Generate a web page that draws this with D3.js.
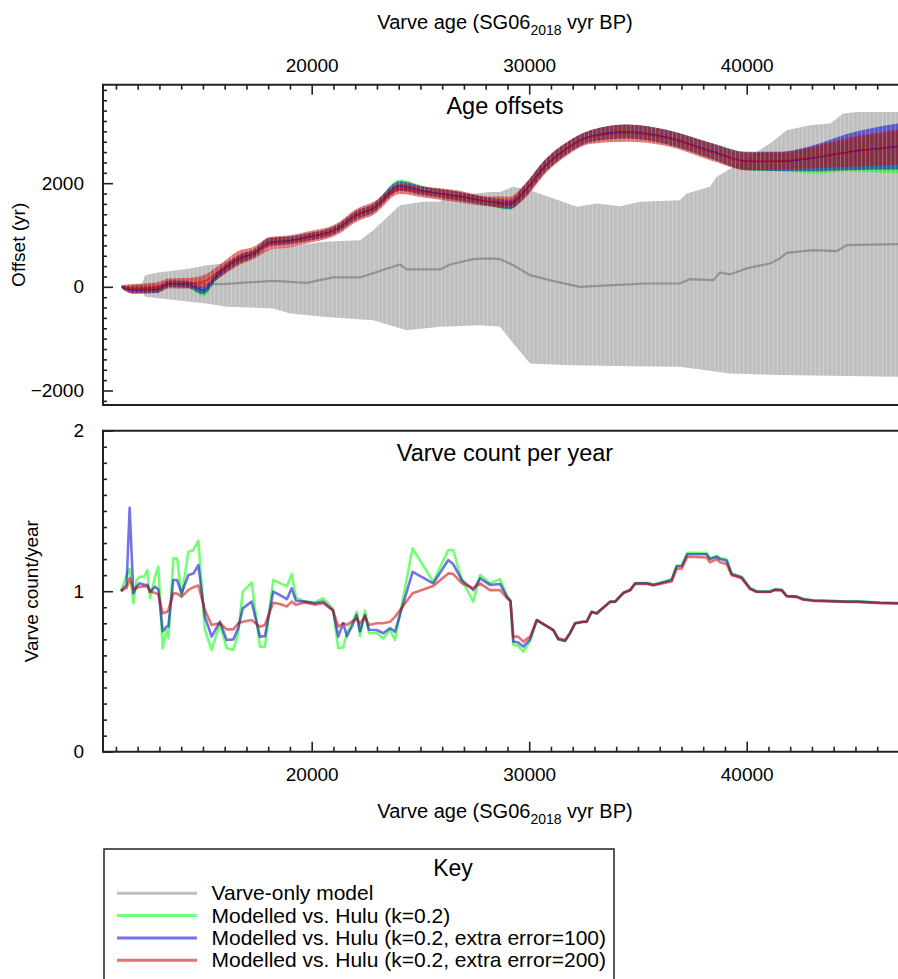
<!DOCTYPE html>
<html>
<head>
<meta charset="utf-8">
<script src="https://cdn.jsdelivr.net/npm/d3@7"></script>
<style>
  body { margin: 0; background: #fff; }
  svg { display: block; font-family: "Liberation Sans", Arial, sans-serif; }
</style>
</head>
<body>
<div id="chart"></div>
<script>
// ---- Age offsets: varve-only model (grey envelope + median) ----
const varveHiAges = [11280, 12200, 12340, 12870, 14400, 15170, 15780, 17470, 19000, 20530,
  22220, 22830, 24060, 25130, 25900, 26050, 28200, 28660, 29260, 30040,
  32190, 33100, 34180, 35100, 36930, 37240, 38310, 38620, 39390, 41070,
  41840, 42910, 43840, 44440, 45060, 47000];
const varveHi = [0, 60, 225, 270, 355, 418, 440, 675, 771, 868,
  900, 1093, 1576, 1640, 1640, 1736, 1832, 1832, 1929, 1865,
  1543, 1608, 1556, 1640, 1672, 1801, 1929, 2122, 2314, 2766,
  3022, 3119, 3151, 3344, 3375, 3375];
const varveLoAges = [11280, 12200, 12340, 14400, 15170, 16090, 18230, 19000, 20530, 22830,
  24370, 25900, 27740, 28660, 29270, 30040, 31570, 33870, 36930, 39230,
  41530, 44600, 47000];
const varveLo = [0, -60, -193, -289, -321, -386, -417, -514, -578, -643,
  -836, -771, -739, -771, -1093, -1478, -1510, -1529, -1543, -1671,
  -1703, -1722, -1736];
const varveMedAges = [11280, 14400, 15940, 18230, 19770, 20990, 22220, 24060, 24370, 25900,
  26360, 27430, 28200, 28660, 29270, 30040, 31270, 32340, 33870, 35400,
  36930, 37390, 38470, 38770, 39230, 40000, 41070, 41530, 41840, 43060,
  44140, 44600, 47000];
const varveMed = [0, 52, 52, 116, 77, 181, 181, 432, 336, 336,
  432, 534, 548, 534, 418, 226, 97, 0, 32, 64,
  64, 148, 129, 278, 239, 355, 451, 548, 656, 708,
  689, 804, 824];

// ---- Age offsets: modelled vs. Hulu (centre and half-width) ----
const offsetAges = [11260, 11800, 12870, 13480, 14250, 15020, 15630, 16700, 17310, 18080,
  19000, 19770, 21150, 22070, 22830, 24060, 25130, 26670, 28200, 29120,
  29730, 30800, 31720, 32800, 34480, 36320, 38460, 40000, 41530, 43060,
  44600, 47000];
const greenMid = [0, -70, -60, 55, 45, -110, 200, 540, 640, 880,
  900, 960, 1120, 1390, 1520, 1970, 1860, 1760, 1630, 1560,
  1820, 2360, 2675, 2905, 2996, 2890, 2610, 2420, 2400, 2440,
  2520, 2590];
const blueMid = [0, -65, -55, 60, 50, -70, 210, 545, 640, 860,
  895, 955, 1115, 1385, 1515, 1945, 1850, 1755, 1640, 1590,
  1820, 2360, 2670, 2905, 2996, 2890, 2610, 2427, 2420, 2480,
  2600, 2710];
const redMid = [0, -40, -15, 70, 70, 100, 260, 565, 650, 835,
  880, 950, 1110, 1383, 1511, 1890, 1830, 1750, 1645, 1630,
  1815, 2350, 2660, 2885, 2965, 2870, 2590, 2420, 2430, 2500,
  2590, 2700];
const greenErr = [20, 55, 60, 60, 60, 75, 75, 80, 70, 75,
  70, 70, 70, 80, 80, 100, 85, 80, 75, 80,
  110, 115, 110, 110, 130, 135, 150, 175, 177, 255,
  300, 400];
const blueErr = [25, 60, 65, 65, 65, 75, 75, 85, 75, 80,
  75, 75, 75, 85, 85, 95, 85, 85, 80, 90,
  115, 120, 115, 115, 136, 140, 155, 177, 185, 250,
  350, 445];
const redErr = [35, 95, 100, 95, 100, 125, 125, 140, 120, 125,
  115, 112, 112, 125, 125, 100, 105, 112, 97, 110,
  140, 140, 130, 130, 168, 155, 165, 170, 165, 210,
  280, 340];

// ---- Varve count per year ----
const countAges = [11230, 11490, 11630, 11800, 11950, 12100, 12290, 12440, 12570, 12800,
  12950, 13150, 13330, 13410, 13640, 13810, 14020, 14330, 14560, 14790,
  15090, 15400, 15780, 16090, 16400, 16620, 16830, 17240, 17620, 17850,
  18230, 18540, 18860, 19080, 19280, 19690, 20150, 20530, 20980, 21220,
  21450, 21620, 21850, 22070, 22220, 22450, 22630, 22990, 23290, 23600,
  23830, 24640, 25590, 26280, 26500, 26900, 27430, 27740, 28200, 28660,
  28980, 29140, 29270, 29490, 29730, 30040, 30350, 31110, 31340, 31650,
  31880, 32110, 32490, 32640, 32870, 33100, 33720, 33950, 34330, 34640,
  34870, 35400, 35710, 36010, 36320, 36550, 36780, 37010, 37270, 38160,
  38310, 38620, 38770, 39080, 39310, 39770, 40150, 40460, 41070, 41300,
  41610, 41840, 42300, 42600, 43060, 44600, 45060, 46130, 47000];
const greenCount = [1.00, 1.10, 1.14, 0.925, 1.07, 1.09, 1.09, 1.132, 0.956, 1.09,
  1.153, 0.644, 0.758, 0.706, 1.205, 1.205, 0.966, 1.246, 1.257, 1.315,
  0.758, 0.634, 0.80, 0.644, 0.634, 0.74, 0.997, 1.053, 0.654, 0.654,
  1.07, 1.05, 1.03, 1.107, 0.96, 0.935, 0.93, 0.956, 0.89, 0.644,
  0.65, 0.74, 0.80, 0.872, 0.72, 0.88, 0.74, 0.74, 0.706, 0.76,
  0.696, 1.267, 1.059, 1.257, 1.257, 1.07, 0.935, 1.101, 1.05, 1.075,
  0.97, 0.93, 0.665, 0.66, 0.623, 0.69, 0.82, 0.758, 0.70, 0.69,
  0.74, 0.80, 0.81, 0.81, 0.872, 0.862, 0.935, 0.935, 0.99, 1.007,
  1.05, 1.052, 1.042, 1.052, 1.065, 1.075, 1.16, 1.16, 1.24, 1.237,
  1.205, 1.22, 1.205, 1.20, 1.11, 1.09, 1.02, 1.0, 1.0, 1.012,
  1.009, 0.972, 0.968, 0.952, 0.944, 0.937, 0.938, 0.93, 0.927];
const blueCount = [1.00, 1.04, 1.52, 0.987, 1.03, 1.05, 1.04, 1.04, 0.997, 1.028,
  1.01, 0.75, 0.78, 0.78, 1.07, 1.07, 0.987, 1.101, 1.11, 1.163,
  0.841, 0.717, 0.81, 0.696, 0.70, 0.769, 0.893, 0.935, 0.717, 0.72,
  0.997, 0.975, 0.95, 1.018, 0.94, 0.935, 0.925, 0.935, 0.88, 0.717,
  0.80, 0.72, 0.78, 0.852, 0.75, 0.852, 0.76, 0.758, 0.738, 0.77,
  0.748, 1.121, 1.049, 1.194, 1.17, 1.07, 1.007, 1.08, 1.039, 1.045,
  0.966, 0.94, 0.686, 0.68, 0.655, 0.70, 0.82, 0.758, 0.70, 0.69,
  0.74, 0.80, 0.81, 0.81, 0.872, 0.862, 0.935, 0.935, 0.99, 1.007,
  1.049, 1.049, 1.04, 1.049, 1.06, 1.07, 1.155, 1.155, 1.23, 1.23,
  1.20, 1.215, 1.20, 1.19, 1.105, 1.085, 1.018, 0.997, 0.997, 1.01,
  1.007, 0.97, 0.966, 0.95, 0.942, 0.935, 0.935, 0.928, 0.925];
const redCount = [1.00, 1.02, 1.08, 1.01, 1.02, 1.028, 1.03, 1.03, 0.997, 0.99,
  0.98, 0.862, 0.87, 0.883, 0.987, 0.985, 0.966, 1.007, 1.025, 1.035,
  0.883, 0.789, 0.80, 0.762, 0.762, 0.80, 0.81, 0.82, 0.779, 0.79,
  0.928, 0.92, 0.905, 0.935, 0.915, 0.93, 0.915, 0.925, 0.88, 0.779,
  0.80, 0.79, 0.81, 0.83, 0.80, 0.84, 0.79, 0.80, 0.80, 0.81,
  0.84, 0.987, 1.032, 1.111, 1.108, 1.05, 1.018, 1.049, 1.007, 1.007,
  0.956, 0.94, 0.717, 0.717, 0.686, 0.717, 0.82, 0.758, 0.706, 0.696,
  0.738, 0.80, 0.81, 0.808, 0.87, 0.86, 0.933, 0.933, 0.988, 1.005,
  1.045, 1.045, 1.036, 1.045, 1.055, 1.06, 1.14, 1.14, 1.215, 1.21,
  1.18, 1.20, 1.18, 1.17, 1.10, 1.08, 1.013, 0.995, 0.995, 1.007,
  1.005, 0.967, 0.963, 0.947, 0.94, 0.933, 0.933, 0.926, 0.923];

// ---- ticks and legend ----
const ageMajorTicks = [20000, 30000, 40000];
const offsetMajorTicks = [-2000, 0, 2000];
const countMajorTicks = [0, 1, 2];
const legendLabels = ["Varve-only model", "Modelled vs. Hulu (k=0.2)",
  "Modelled vs. Hulu (k=0.2, extra error=100)", "Modelled vs. Hulu (k=0.2, extra error=200)"];
const legendColors = ["#000000", "#00ff00", "#0000cc", "#cc0000"];
const legendAlpha = [0.25, 0.55, 0.55, 0.55];

const width = 898;
const height = 979;
const plotLeft = 103, plotRight = 907;
const top1 = 84.7, bottom1 = 405;
const top2 = 430.7, bottom2 = 751.7;
const axisColor = "#222";
const tickFont = 19;

const x = d3.scaleLinear().domain([10405, 47370]).range([plotLeft, plotRight]);
const yOff = d3.scaleLinear().domain([-2280, 3900]).range([bottom1, top1]);
const yCount = d3.scaleLinear().domain([0, 2]).range([bottom2, top2]);

const svg = d3.select("#chart")
    .append("svg")
    .attr("width", width)
    .attr("height", height);

const defs = svg.append("defs");
defs.append("clipPath").attr("id", "clipTop")
    .append("rect")
    .attr("x", plotLeft).attr("y", top1)
    .attr("width", plotRight - plotLeft).attr("height", bottom1 - top1);
defs.append("clipPath").attr("id", "clipBottom")
    .append("rect")
    .attr("x", plotLeft).attr("y", top2)
    .attr("width", plotRight - plotLeft).attr("height", bottom2 - top2);

// faint vertical seams, like the stripes in the original fills
const seams = defs.append("pattern")
    .attr("id", "seams")
    .attr("patternUnits", "userSpaceOnUse")
    .attr("width", 4.2)
    .attr("height", 20);
seams.append("rect")
    .attr("x", 0).attr("y", 0)
    .attr("width", 0.9).attr("height", 20)
    .attr("fill", "#fff")
    .attr("fill-opacity", 0.3);

// ================= top panel: age offsets =================
const gTop = svg.append("g").attr("clip-path", "url(#clipTop)");

const greyPts = varveHiAges.map((a, i) => [x(a), yOff(varveHi[i])])
    .concat(varveLoAges.map((a, i) => [x(a), yOff(varveLo[i])]).reverse());
const greyPath = d3.line()(greyPts) + "Z";

gTop.append("path")
    .attr("d", greyPath)
    .attr("fill", "#000")
    .attr("fill-opacity", 0.25);
gTop.append("path")
    .attr("d", greyPath)
    .attr("fill", "url(#seams)");

gTop.append("path")
    .datum(varveMedAges.map((a, i) => [a, varveMed[i]]))
    .attr("d", d3.line().x(d => x(d[0])).y(d => yOff(d[1])))
    .attr("fill", "none")
    .attr("stroke", "#000")
    .attr("stroke-opacity", 0.25)
    .attr("stroke-width", 2.2);

const bandRows = offsetAges.map((a, i) => ({
    age: a,
    g: [greenMid[i], greenErr[i]],
    b: [blueMid[i], blueErr[i]],
    r: [redMid[i], redErr[i]]
}));

const models = [
    { key: "g", color: "#00ff00" },
    { key: "b", color: "#0000cc" },
    { key: "r", color: "#cc0000" }
];

models.forEach(m => {
    gTop.append("path")
        .datum(bandRows)
        .attr("d", d3.area()
            .curve(d3.curveMonotoneX)
            .x(d => x(d.age))
            .y0(d => yOff(d[m.key][0] - d[m.key][1]))
            .y1(d => yOff(d[m.key][0] + d[m.key][1])))
        .attr("fill", m.color)
        .attr("fill-opacity", 0.55);
});

// seams over the coloured envelope
gTop.append("path")
    .datum(bandRows)
    .attr("d", d3.area()
        .curve(d3.curveMonotoneX)
        .x(d => x(d.age))
        .y0(d => yOff(d3.min(models, m => d[m.key][0] - d[m.key][1])))
        .y1(d => yOff(d3.max(models, m => d[m.key][0] + d[m.key][1]))))
    .attr("fill", "url(#seams)");

// centre lines
[{ key: "b", color: "#0000cc", w: 1.2 }, { key: "r", color: "#cc0000", w: 1.6 }].forEach(m => {
    gTop.append("path")
        .datum(bandRows)
        .attr("d", d3.line()
            .curve(d3.curveMonotoneX)
            .x(d => x(d.age))
            .y(d => yOff(d[m.key][0])))
        .attr("fill", "none")
        .attr("stroke", m.color)
        .attr("stroke-opacity", 0.55)
        .attr("stroke-width", m.w);
});

// ================= bottom panel: varve count per year =================
const gBot = svg.append("g").attr("clip-path", "url(#clipBottom)");

const countLine = d3.line().x(d => x(d[0])).y(d => yCount(d[1]));
[[greenCount, "#00ff00"], [blueCount, "#0000cc"], [redCount, "#cc0000"]].forEach(([vals, col]) => {
    gBot.append("path")
        .datum(countAges.map((a, i) => [a, vals[i]]))
        .attr("d", countLine)
        .attr("fill", "none")
        .attr("stroke", col)
        .attr("stroke-opacity", 0.55)
        .attr("stroke-width", 2.6)
        .attr("stroke-linejoin", "round");
});

// ================= frames and axes =================
function frame(yTop, yBottom) {
    const g = svg.append("g")
        .attr("fill", "none")
        .attr("stroke", axisColor)
        .attr("stroke-width", 2);
    g.append("line").attr("x1", plotLeft).attr("x2", plotRight + 5).attr("y1", yTop).attr("y2", yTop);
    g.append("line").attr("x1", plotLeft).attr("x2", plotRight + 5).attr("y1", yBottom).attr("y2", yBottom);
    g.append("line").attr("x1", plotLeft).attr("x2", plotLeft).attr("y1", yTop - 1).attr("y2", yBottom + 1);
}
frame(top1, bottom1);
frame(top2, bottom2);

function styleAxis(g) {
    g.select(".domain").remove();
    g.selectAll(".tick line").attr("stroke", axisColor).attr("stroke-width", 1.6);
    g.selectAll(".tick text")
        .attr("fill", "#000")
        .style("font-size", tickFont + "px")
        .style("font-family", "'Liberation Sans', Arial, sans-serif");
}

const ageMinor = d3.range(11000, 47001, 1000).filter(v => v % 10000 !== 0);
const offMinor = d3.range(-2200, 3801, 200).filter(v => v % 2000 !== 0);
const cntMinor = d3.range(1, 20).filter(v => v !== 10).map(v => v / 10);

// top x axis on the offsets panel
svg.append("g").attr("transform", `translate(0,${top1})`)
    .call(d3.axisTop(x).tickValues(ageMinor).tickSize(-5).tickFormat(""))
    .call(styleAxis);
svg.append("g").attr("transform", `translate(0,${top1})`)
    .call(d3.axisTop(x).tickValues(ageMajorTicks).tickSize(-10).tickPadding(13).tickFormat(d3.format("d")))
    .call(styleAxis);

// bottom x axis on the count panel
svg.append("g").attr("transform", `translate(0,${bottom2})`)
    .call(d3.axisBottom(x).tickValues(ageMinor).tickSize(-5).tickFormat(""))
    .call(styleAxis);
svg.append("g").attr("transform", `translate(0,${bottom2})`)
    .call(d3.axisBottom(x).tickValues(ageMajorTicks).tickSize(-10).tickPadding(16).tickFormat(d3.format("d")))
    .call(styleAxis);

// y axes
svg.append("g").attr("transform", `translate(${plotLeft},0)`)
    .call(d3.axisLeft(yOff).tickValues(offMinor).tickSize(-4).tickFormat(""))
    .call(styleAxis);
svg.append("g").attr("transform", `translate(${plotLeft},0)`)
    .call(d3.axisLeft(yOff).tickValues(offsetMajorTicks).tickSize(-10).tickPadding(19).tickFormat(d3.format("d")))
    .call(styleAxis);
svg.append("g").attr("transform", `translate(${plotLeft},0)`)
    .call(d3.axisLeft(yCount).tickValues(cntMinor).tickSize(-4).tickFormat(""))
    .call(styleAxis);
svg.append("g").attr("transform", `translate(${plotLeft},0)`)
    .call(d3.axisLeft(yCount).tickValues(countMajorTicks).tickSize(-10).tickPadding(19).tickFormat(d3.format("d")))
    .call(styleAxis);

// ================= titles and labels =================
const midX = (plotLeft + plotRight) / 2;

function ageLabel(yBase) {
    const t = svg.append("text")
        .attr("x", midX)
        .attr("y", yBase)
        .attr("text-anchor", "middle")
        .style("font-size", "20px");
    t.append("tspan").text("Varve age (SG06");
    t.append("tspan").attr("dy", 6).style("font-size", "14px").text("2018");
    t.append("tspan").attr("dy", -6).text(" vyr BP)");
}
ageLabel(29);
ageLabel(818);

svg.append("text")
    .attr("x", midX).attr("y", 114)
    .attr("text-anchor", "middle")
    .style("font-size", "23.5px")
    .text("Age offsets");

svg.append("text")
    .attr("x", midX).attr("y", 461)
    .attr("text-anchor", "middle")
    .style("font-size", "23.5px")
    .text("Varve count per year");

svg.append("text")
    .attr("transform", `translate(25,${(top1 + bottom1) / 2}) rotate(-90)`)
    .attr("text-anchor", "middle")
    .style("font-size", "19px")
    .text("Offset (yr)");

svg.append("text")
    .attr("transform", `translate(38,${(top2 + bottom2) / 2}) rotate(-90)`)
    .attr("text-anchor", "middle")
    .style("font-size", "19px")
    .text("Varve count/year");

// ================= legend =================
const legend = svg.append("g");
legend.append("rect")
    .attr("x", 104).attr("y", 849)
    .attr("width", 510).attr("height", 160)
    .attr("fill", "#fff")
    .attr("stroke", axisColor)
    .attr("stroke-width", 1.5);

legend.append("text")
    .attr("x", 453).attr("y", 876)
    .attr("text-anchor", "middle")
    .style("font-size", "23px")
    .text("Key");

const rows = legend.selectAll("g.row")
    .data(legendLabels)
    .enter()
    .append("g")
    .attr("class", "row")
    .attr("transform", (d, i) => `translate(0, ${893.3 + i * 22.3})`);

rows.append("line")
    .attr("x1", 117).attr("x2", 197)
    .attr("y1", 0).attr("y2", 0)
    .attr("stroke", (d, i) => legendColors[i])
    .attr("stroke-opacity", (d, i) => legendAlpha[i])
    .attr("stroke-width", 3);

rows.append("text")
    .attr("x", 211.5)
    .attr("y", 7)
    .style("font-size", "21px")
    .text(d => d);
</script>
</body>
</html>
